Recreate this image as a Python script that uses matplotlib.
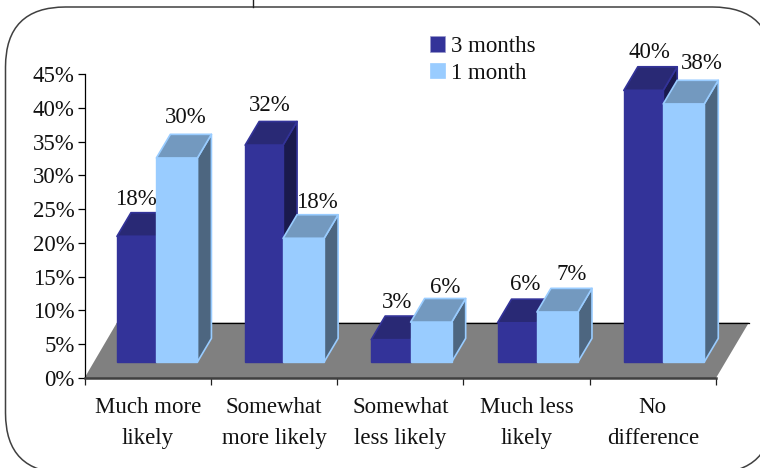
"""Rebuild the 3-D look clustered bar chart of likelihood at 3 months vs 1 month."""
import matplotlib
matplotlib.use("Agg")
import matplotlib.pyplot as plt
from matplotlib.patches import FancyBboxPatch, Patch, Polygon

categories = ["Much more\nlikely", "Somewhat\nmore likely", "Somewhat\nless likely", "Much less\nlikely", "No\ndifference"]
series_names = ["3 months", "1 month"]
# printed labels
labels_3m = [18, 32, 3, 6, 40]
labels_1m = [30, 18, 6, 7, 38]
# bar heights as drawn, slightly off the printed labels in the original
heights_3m = [18.6, 32.1, 3.3, 5.8, 40.2]
heights_1m = [30.2, 18.3, 5.9, 7.4, 38.2]
y_ticks = [0, 5, 10, 15, 20, 25, 30, 35, 40, 45]

W, H = 760, 468
AX_L, AX_R, AX_T, AX_B = 84.5, 716.0, 74.0, 378.0
FONT = "Liberation Serif"
FS = 16.5

# fake 3-D geometry, in data units
BASE = 2.37
DEPTH_X = 0.111
DEPTH_Y = 3.5
FLOOR_X = 0.26
FLOOR_Y = 8.2
left_offset = [0.257, 0.272, 0.27, 0.27, 0.27]
width_3m = [0.312, 0.30, 0.312, 0.312, 0.312]
WIDTH_1M = 0.325
# label nudges in pixels (right, down)
dx_3m = [-1, 6, 6, 8, 6]
dx_1m = [-2, 2, 3, 3, 7]
dy_3m = [4.5, 2.5, 4.5, 3.5, 3.5]
dy_1m = [1.5, 5.5, 7.5, 4.5, 1.5]

plt.rcParams["font.family"] = [FONT, "DejaVu Serif"]
fig = plt.figure(figsize=(W / 100, H / 100), dpi=100)

# page frame, in pixel coordinates
bg = fig.add_axes([0, 0, 1, 1], zorder=0)
bg.set_xlim(0, W)
bg.set_ylim(H, 0)
bg.axis("off")
bg.add_patch(FancyBboxPatch((5.5, 7), 767, 466, boxstyle="round,pad=0,rounding_size=60",
                            fc="white", ec="#404040", lw=1.1))
bg.plot([252.5, 252.5], [0, 7], color="#202020", lw=1)

ax = fig.add_axes([AX_L / W, 1 - AX_B / H, (AX_R - AX_L) / W, (AX_B - AX_T) / H], zorder=1)
ax.patch.set_alpha(0)
ax.set_xlim(0, 5)
ax.set_ylim(0, 45)
for s in ("top", "right"):
    ax.spines[s].set_visible(False)
ax.spines["left"].set_linewidth(0.9)
ax.spines["bottom"].set_color("#404040")
ax.spines["bottom"].set_linewidth(1.8)
ax.set_yticks(y_ticks)
ax.set_yticklabels([f"{v}%" for v in y_ticks], fontsize=FS, color="#111111")
ax.tick_params(axis="y", length=5, width=0.9, pad=2)
ax.set_xticks(range(6))
ax.set_xticklabels([])
ax.tick_params(axis="x", length=5, width=0.9, color="#202020")
ax.set_xticks([i + 0.5 for i in range(5)], minor=True)
ax.set_xticklabels(categories, minor=True, fontsize=FS, color="#111111", linespacing=1.57)
ax.tick_params(axis="x", which="minor", length=0, pad=14)

ax.add_patch(Polygon([(0, 0), (5, 0), (5 + FLOOR_X, FLOOR_Y), (FLOOR_X - 0.003, FLOOR_Y)],
                     fc="#808080", ec="none", clip_on=False, zorder=1))
ax.plot([FLOOR_X, 5 + FLOOR_X], [FLOOR_Y, FLOOR_Y], color="black", lw=0.9, clip_on=False, zorder=1.5)


def draw_bar(x, w, h, front, top, side, edge, z):
    y0, y1 = BASE, BASE + h
    ax.add_patch(Polygon([(x + w, y0), (x + w + DEPTH_X, y0 + DEPTH_Y), (x + w + DEPTH_X, y1 + DEPTH_Y), (x + w, y1)],
                         fc=side, ec=edge, lw=1.2, clip_on=False, zorder=z, joinstyle="round"))
    ax.add_patch(Polygon([(x, y1), (x + w, y1), (x + w + DEPTH_X, y1 + DEPTH_Y), (x + DEPTH_X, y1 + DEPTH_Y)],
                         fc=top, ec=edge, lw=1.2, clip_on=False, zorder=z, joinstyle="round"))
    ax.add_patch(Polygon([(x, y0), (x + w, y0), (x + w, y1), (x, y1)],
                         fc=front, ec=edge, lw=1.0, clip_on=False, zorder=z + 0.1))


for i in range(5):
    x3 = i + left_offset[i]
    x1 = x3 + width_3m[i]
    draw_bar(x3, width_3m[i], heights_3m[i], "#333399", "#292975", "#1a1a4d", "#333399", 2 + i)
    draw_bar(x1, WIDTH_1M, heights_1m[i], "#99ccff", "#7399bf", "#4d6680", "#99ccff", 2.5 + i)
    ax.annotate(f"{labels_3m[i]}%", (x3 + width_3m[i] / 2, BASE + heights_3m[i] + DEPTH_Y),
                xytext=(dx_3m[i] * 0.72, 5.5 - dy_3m[i] * 0.72), textcoords="offset points", ha="center", va="bottom",
                fontsize=FS, color="#111111", zorder=20, annotation_clip=False)
    ax.annotate(f"{labels_1m[i]}%", (x1 + WIDTH_1M / 2, BASE + heights_1m[i] + DEPTH_Y),
                xytext=(dx_1m[i] * 0.72 + 8, 5.5 - dy_1m[i] * 0.72), textcoords="offset points", ha="center", va="bottom",
                fontsize=FS, color="#111111", zorder=20, annotation_clip=False)

handles = [Patch(fc="#333399", ec="#9999cc", lw=0.5), Patch(fc="#99ccff", ec="#99ccff", lw=0.5)]
fig.legend(handles, series_names, loc="upper left", bbox_to_anchor=(430 / W, 1 - 36 / H),
           frameon=False, fontsize=FS, handlelength=0.65, handleheight=0.65, handletextpad=0.26,
           labelspacing=0.25, borderpad=0, borderaxespad=0, labelcolor="#111111")

fig.savefig("out.png", dpi=100)
